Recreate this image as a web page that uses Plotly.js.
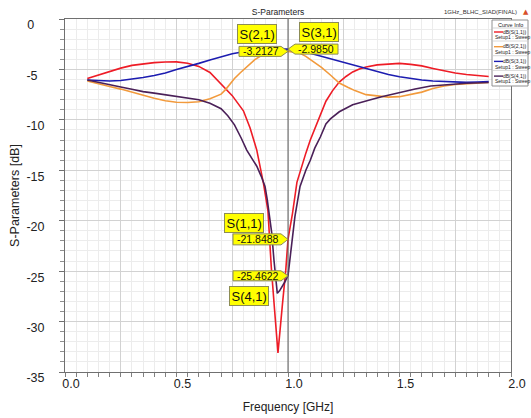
<!DOCTYPE html>
<html><head><meta charset="utf-8">
<script src="https://cdn.plot.ly/plotly-3.0.1.min.js"></script>
<style>body{margin:0;background:#fff}#chart{width:531px;height:418px}</style>
</head><body><div id="chart"></div>
<script>
// ---------- DATA ----------
const seriesNames = ['dB(S(1,1))','dB(S(2,1))','dB(S(3,1))','dB(S(4,1))'];
const setupName = 'Setup1 : Sweep';

const freqS11 = [0.10,0.15,0.20,0.25,0.30,0.35,0.40,0.45,0.50,0.55,0.60,0.65,0.70,0.75,0.80,0.83,0.86,0.89,0.91,0.925,0.94,0.955,0.975,0.99,1.00,1.02,1.04,1.06,1.08,1.10,1.13,1.15,1.17,1.20,1.23,1.26,1.29,1.32,1.35,1.40,1.45,1.50,1.55,1.60,1.65,1.70,1.75,1.80,1.85,1.90];
const s11 = [-5.9,-5.55,-5.2,-4.87,-4.6,-4.45,-4.33,-4.27,-4.25,-4.38,-4.7,-5.3,-6.4,-7.6,-9.1,-10.8,-13.0,-16.3,-19.0,-24.6,-28.9,-33.1,-28.3,-24.9,-21.85,-19.3,-16.2,-14.7,-13.3,-12.0,-10.3,-9.2,-8.15,-7.1,-6.25,-5.7,-5.25,-4.95,-4.75,-4.55,-4.45,-4.4,-4.5,-4.65,-4.9,-5.15,-5.35,-5.5,-5.62,-5.7];

const freqS21 = [0.10,0.15,0.20,0.25,0.30,0.35,0.40,0.45,0.50,0.55,0.60,0.65,0.70,0.72,0.74,0.76,0.785,0.81,0.83,0.85,0.875,0.90,0.93,0.96,0.98,1.00,1.03,1.05,1.08,1.11,1.15,1.19,1.23,1.27,1.30,1.35,1.40,1.45,1.50,1.55,1.60,1.65,1.70,1.75,1.80,1.85,1.90];
const s21 = [-6.15,-6.45,-6.7,-6.95,-7.25,-7.6,-7.85,-8.1,-8.25,-8.28,-8.2,-7.9,-7.45,-7.0,-6.4,-5.9,-5.35,-4.85,-4.45,-4.05,-3.7,-3.48,-3.3,-3.18,-3.15,-3.21,-3.25,-3.35,-3.7,-4.15,-4.8,-5.55,-6.35,-6.8,-7.1,-7.5,-7.65,-7.75,-7.7,-7.5,-7.25,-6.9,-6.65,-6.5,-6.42,-6.35,-6.3];

const freqS31 = [0.10,0.15,0.20,0.25,0.30,0.35,0.40,0.45,0.50,0.55,0.60,0.65,0.70,0.75,0.80,0.85,0.90,0.95,1.00,1.05,1.10,1.15,1.20,1.25,1.30,1.35,1.40,1.45,1.50,1.55,1.60,1.65,1.70,1.75,1.80,1.85,1.90];
const s31 = [-6.05,-6.1,-6.15,-6.1,-5.98,-5.8,-5.6,-5.35,-5.0,-4.72,-4.4,-4.06,-3.72,-3.45,-3.25,-3.1,-3.02,-2.97,-2.985,-3.1,-3.4,-3.65,-3.95,-4.25,-4.55,-4.85,-5.2,-5.5,-5.72,-5.9,-6.05,-6.15,-6.2,-6.25,-6.28,-6.25,-6.2];

const freqS41 = [0.10,0.15,0.20,0.25,0.30,0.35,0.40,0.45,0.50,0.55,0.60,0.65,0.70,0.73,0.76,0.79,0.815,0.84,0.86,0.88,0.897,0.907,0.917,0.927,0.937,0.944,0.952,0.962,0.972,0.985,1.00,1.009,1.016,1.031,1.054,1.08,1.10,1.12,1.145,1.17,1.19,1.23,1.29,1.345,1.37,1.42,1.50,1.57,1.64,1.72,1.80,1.90];
const s41 = [-6.05,-6.3,-6.5,-6.75,-6.97,-7.2,-7.35,-7.5,-7.63,-7.78,-8.0,-8.36,-8.9,-9.6,-10.5,-11.8,-13.0,-13.9,-14.6,-15.6,-16.6,-17.9,-19.5,-21.2,-23.9,-25.5,-27.2,-26.95,-26.6,-26.1,-25.46,-23.9,-22.3,-19.6,-16.6,-15.0,-14.0,-12.8,-11.7,-10.4,-9.9,-9.2,-8.5,-8.2,-8.0,-7.7,-7.27,-6.94,-6.64,-6.48,-6.37,-6.3];

const markerFreq = 1.0;
const markerNames = ['S(2,1)','S(3,1)','S(1,1)','S(4,1)'];
const markerValues = [-3.2127,-2.9850,-21.8488,-25.4622];
const markerTexts = ['-3.2127','-2.9850','-21.8488','-25.4622'];

const xTickVals = [0,0.25,0.5,0.75,1.0,1.25,1.5,1.75,2.0];
const xTickText = ['0.0','','0.5','','1.0','','1.5','','2.0'];
const yTickVals = [0,-5,-10,-15,-20,-25,-30,-35];
const yTickText = ['0\u00a0\u00a0\u00a0','-5\u00a0\u00a0','-10','-15','-20','-25','-30','-35'];

// ---------- STYLE ----------
const colors = ['#ee1c26','#f29a3c','#1c1cb0','#4a2058'];
const FONT = 'Liberation Sans, Arial, sans-serif';
const L=65, R=511, T=19, B=372, W=531, H=418;
const px2x = p => (p-L)/(R-L);
const py2y = p => (B-p)/(B-T);

const xs = [freqS11,freqS21,freqS31,freqS41];
const ys = [s11,s21,s31,s41];
const traces = xs.map((x,i)=>({
  type:'scatter', mode:'lines', x:x, y:ys[i], name:seriesNames[i],
  line:{color:colors[i], width:1.6}, hoverinfo:'skip'
}));

const shapes = [];
const annotations = [];

// marker vertical line
shapes.push({type:'line', xref:'x', yref:'paper', x0:markerFreq, x1:markerFreq, y0:0, y1:1,
  line:{color:'#606060', width:1}, layer:'above'});

const mStyle = [
  {side:-1, w:49, h:10, ndx:-31, ndy:17},
  {side:1,  w:50, h:10, ndx:31,  ndy:17},
  {side:-1, w:55, h:11, ndx:-44, ndy:16},
  {side:-1, w:55, h:10, ndx:-39, ndy:-20}
];
markerValues.forEach((v,i)=>{
  const s=mStyle[i], sd=s.side, hh=s.h/2;
  shapes.push({type:'path', xref:'x', yref:'y', xsizemode:'pixel', ysizemode:'pixel',
    xanchor:markerFreq, yanchor:v,
    path:`M0,0 L${sd*7},${hh} L${sd*s.w},${hh} L${sd*s.w},${-hh} L${sd*7},${-hh} Z`,
    fillcolor:'#ffff00', line:{color:'#8c8c55', width:1}, layer:'above'});
  annotations.push({x:markerFreq, y:v, xref:'x', yref:'y', showarrow:false,
    xshift: sd*(s.w+6)/2, text:markerTexts[i], font:{family:FONT, size:10.5, color:'#111'},
    xanchor:'center', yanchor:'middle'});
  annotations.push({x:markerFreq, y:v, xref:'x', yref:'y', showarrow:false,
    xshift:s.ndx, yshift:s.ndy, text:markerNames[i], font:{family:FONT, size:13, color:'#111'},
    xanchor:'center', yanchor:'middle', bgcolor:'#ffff00', bordercolor:'#8c8c55', borderwidth:1, borderpad:1.5});
});

// custom "Curve Info" legend
shapes.push({type:'rect', xref:'paper', yref:'paper', x0:px2x(492), x1:px2x(528), y0:py2y(20), y1:py2y(86),
  fillcolor:'#ffffff', line:{color:'#909090', width:1}, layer:'above'});
annotations.push({xref:'paper', yref:'paper', x:px2x(510), y:py2y(24.5), text:'Curve Info', showarrow:false,
  font:{family:FONT, size:5.5, color:'#222'}, xanchor:'center', yanchor:'middle'});
shapes.push({type:'line', xref:'paper', yref:'paper', x0:px2x(492), x1:px2x(528), y0:py2y(28), y1:py2y(28),
  line:{color:'#c0c0c0', width:0.7}, layer:'above'});
seriesNames.forEach((n,i)=>{
  const yb = 32 + 14.7*i;
  shapes.push({type:'line', xref:'paper', yref:'paper', x0:px2x(494), x1:px2x(503), y0:py2y(yb), y1:py2y(yb),
    line:{color:colors[i], width:1.4}, layer:'above'});
  annotations.push({xref:'paper', yref:'paper', x:px2x(527.5), y:py2y(yb-0.5), text:n, showarrow:false,
    font:{family:FONT, size:5, color:'#222'}, xanchor:'right', yanchor:'middle'});
  annotations.push({xref:'paper', yref:'paper', x:px2x(493), y:py2y(yb+5.3), text:setupName, showarrow:false,
    font:{family:FONT, size:5, color:'#222'}, xanchor:'left', yanchor:'middle'});
  if(i<3) shapes.push({type:'line', xref:'paper', yref:'paper', x0:px2x(492), x1:px2x(528), y0:py2y(yb+9), y1:py2y(yb+9),
    line:{color:'#c8c8c8', width:0.7}, layer:'above'});
});

// top-right project text + logo
annotations.push({xref:'paper', yref:'paper', x:px2x(519), y:py2y(12), text:'1GHz_BLHC_SIAD(FINAL)', showarrow:false,
  font:{family:FONT, size:6, color:'#333'}, xanchor:'right', yanchor:'middle'});
annotations.push({xref:'paper', yref:'paper', x:px2x(526), y:py2y(12), text:'\u25B2', showarrow:false,
  font:{family:'DejaVu Sans', size:7, color:'#d8502a'}, xanchor:'center', yanchor:'middle'});

const axisCommon = {showline:true, mirror:true, linecolor:'#707070', linewidth:1,
  zeroline:false, showgrid:true, gridcolor:'#d2d2d2', gridwidth:1,
  tickfont:{family:FONT, size:12.5, color:'#222'}};

const layout = {
  width:W, height:H, margin:{l:L, r:W-R, t:T, b:H-B}, paper_bgcolor:'#fff', plot_bgcolor:'#fff',
  showlegend:false, hovermode:false,
  title:{text:'S-Parameters', font:{family:FONT, size:8.5, color:'#222'},
    x:278/W, xref:'container', xanchor:'center', y:1-12/H, yref:'container', yanchor:'middle'},
  xaxis:Object.assign({}, axisCommon, {range:[0,2], tickmode:'array', tickvals:xTickVals, ticktext:xTickText,
    ticks:'', ticklabelshift:6, ticklabelstandoff:0,
    minor:{tick0:0, dtick:0.05, showgrid:true, gridcolor:'#ececec', ticks:'outside', ticklen:4, tickcolor:'#808080'},
    title:{text:'Frequency [GHz]', font:{family:FONT, size:12, color:'#222'}, standoff:12}}),
  yaxis:Object.assign({}, axisCommon, {range:[-35,0], tickmode:'array', tickvals:yTickVals, ticktext:yTickText,
    ticks:'outside', ticklen:5, tickcolor:'#707070', ticklabelshift:6, ticklabelstandoff:12,
    minor:{tick0:0, dtick:1, showgrid:true, gridcolor:'#ececec', ticks:'outside', ticklen:4, tickcolor:'#909090'},
    title:{text:'S-Parameters [dB]', font:{family:FONT, size:12.5, color:'#222'}, standoff:4}}),
  shapes:shapes, annotations:annotations
};

Plotly.newPlot('chart', traces, layout, {displayModeBar:false, staticPlot:true});
</script></body></html>
